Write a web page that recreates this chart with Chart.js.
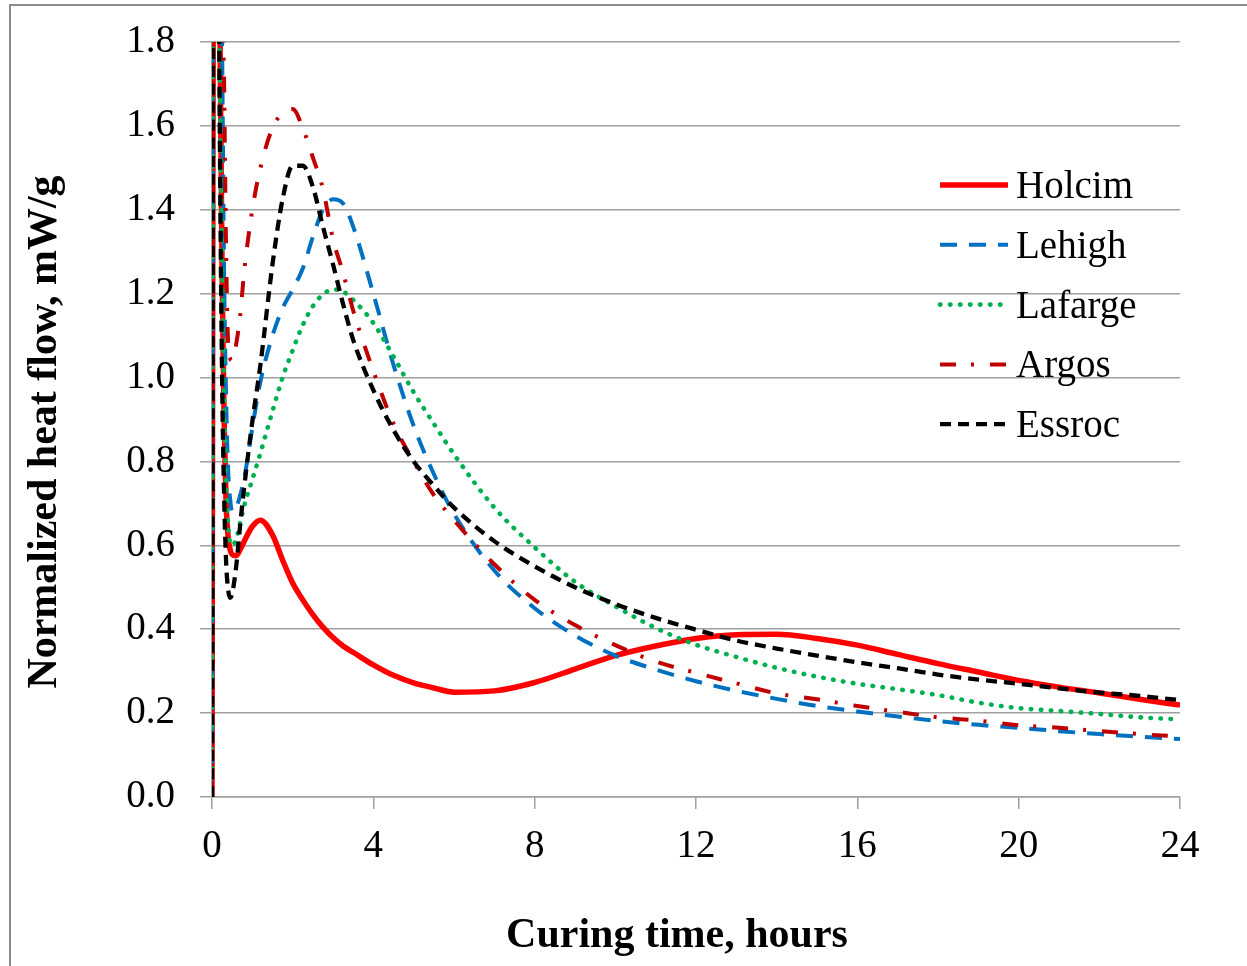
<!DOCTYPE html>
<html>
<head>
<meta charset="utf-8">
<script src="https://cdn.jsdelivr.net/npm/chart.js@4.4.1/dist/chart.umd.min.js"></script>
<style>
  html, body { margin: 0; padding: 0; background: #ffffff; overflow: hidden; }
  #frame { position: absolute; left: 9px; top: 4px; width: 1260px; height: 990px; border: 2px solid #8c8c8c; box-sizing: border-box; }
  #wrap { position: absolute; left: 0; top: 0; width: 1247px; height: 966px; }
</style>
</head>
<body>
<div id="frame"></div>
<div id="wrap"><canvas id="heat" width="1247" height="966"></canvas></div>
<script>
// curing time (hours) shared by all series
var hours = [0, 0.05, 0.1, 0.15, 0.2, 0.25, 0.3, 0.35, 0.4, 0.45, 0.5, 0.6, 0.7, 0.8, 1.0, 1.2, 1.5, 1.75,
  2, 2.25, 2.5, 2.75, 3, 3.25, 3.5, 4, 4.5, 5, 5.5, 6, 7, 8, 9, 10, 11, 12, 13, 14, 15, 16, 17, 18,
  19, 20, 21, 22, 23, 24];

// normalized heat flow, mW/g
var holcim = [0, 3.0, 3.4, 2.6, 1.8, 1.25, 0.9, 0.7, 0.62, 0.59, 0.578, 0.575, 0.59, 0.61, 0.645, 0.66, 0.625, 0.565,
  0.51, 0.47, 0.435, 0.405, 0.38, 0.36, 0.345, 0.315, 0.29, 0.272, 0.26, 0.25, 0.253, 0.273, 0.305, 0.337, 0.36, 0.378, 0.387, 0.388, 0.378, 0.362, 0.34, 0.318,
  0.298, 0.278, 0.262, 0.248, 0.233, 0.219];
var lehigh = [0, 3.0, 3.3, 2.8, 2.3, 1.8, 1.25, 0.95, 0.78, 0.71, 0.68, 0.69, 0.72, 0.76, 0.88, 0.99, 1.10, 1.165,
  1.21, 1.26, 1.335, 1.40, 1.425, 1.415, 1.36, 1.20, 1.03, 0.885, 0.77, 0.675, 0.54, 0.45, 0.385, 0.337, 0.304, 0.276, 0.253, 0.234, 0.217, 0.204, 0.192, 0.181,
  0.172, 0.165, 0.157, 0.15, 0.144, 0.138];
var lafarge = [0, 2.8, 3.0, 2.3, 1.7, 1.3, 0.95, 0.75, 0.65, 0.605, 0.60, 0.615, 0.655, 0.695, 0.757, 0.82, 0.92, 1.0,
  1.065, 1.125, 1.17, 1.198, 1.21, 1.205, 1.185, 1.13, 1.05, 0.965, 0.89, 0.817, 0.69, 0.595, 0.513, 0.455, 0.403, 0.363, 0.334, 0.308, 0.287, 0.27, 0.257, 0.243,
  0.225, 0.212, 0.205, 0.198, 0.19, 0.185];
var argos = [0, 3.2, 3.6, 3.0, 2.5, 2.0, 1.7, 1.3, 1.08, 1.045, 1.04, 1.08, 1.15, 1.255, 1.40, 1.50, 1.595, 1.63,
  1.64, 1.595, 1.525, 1.45, 1.33, 1.25, 1.16, 1.016, 0.89, 0.80, 0.72, 0.66, 0.555, 0.47, 0.41, 0.362, 0.323, 0.296, 0.271, 0.247, 0.233, 0.217, 0.203, 0.19,
  0.182, 0.171, 0.165, 0.157, 0.15, 0.144];
var essroc = [0, 3.0, 3.4, 2.3, 1.5, 1.0, 0.72, 0.56, 0.495, 0.475, 0.485, 0.55, 0.65, 0.74, 0.895, 1.03, 1.27, 1.425,
  1.505, 1.505, 1.455, 1.36, 1.27, 1.175, 1.09, 0.97, 0.875, 0.80, 0.742, 0.69, 0.61, 0.55, 0.50, 0.46, 0.427, 0.399, 0.373, 0.354, 0.337, 0.321, 0.307, 0.292,
  0.28, 0.27, 0.259, 0.249, 0.241, 0.231];

var seriesNames = ['Holcim', 'Lehigh', 'Lafarge', 'Argos', 'Essroc'];
var xTicks = [0, 4, 8, 12, 16, 20, 24];

var serif = '"Liberation Serif", "Times New Roman", serif';

function points(values) {
  return hours.map(function(h, i) { return { x: h, y: values[i] }; });
}

function line(label, values, color, width, dash, cap, order) {
  return {
    label: label,
    data: points(values),
    borderColor: color,
    backgroundColor: color,
    borderWidth: width,
    borderDash: dash,
    borderCapStyle: cap,
    pointRadius: 0,
    fill: false,
    cubicInterpolationMode: 'monotone',
    clip: 0,
    order: order
  };
}

var datasets = [
  line(seriesNames[0], holcim, '#ff0000', 5.5, [], 'butt', 5),
  line(seriesNames[1], lehigh, '#0070c0', 4, [17, 12], 'butt', 4),
  line(seriesNames[2], lafarge, '#00b050', 4.6, [0.5, 9.5], 'round', 3),
  line(seriesNames[3], argos, '#c00000', 4, [16, 15, 3, 16], 'butt', 2),
  line(seriesNames[4], essroc, '#000000', 4.3, [11, 7], 'butt', 1)
];

// legend inside the plot plus axis titles, placed like the original sheet
var extrasPlugin = {
  id: 'extras',
  afterDraw: function(chart) {
    var ctx = chart.ctx;
    ctx.save();
    ctx.font = '39px ' + serif;
    ctx.fillStyle = '#000000';
    ctx.textAlign = 'left';
    ctx.textBaseline = 'alphabetic';
    chart.data.datasets.forEach(function(ds, i) {
      var y = 185 + i * 59.8;
      ctx.beginPath();
      ctx.strokeStyle = ds.borderColor;
      ctx.lineWidth = ds.borderWidth;
      ctx.setLineDash(ds.borderDash);
      ctx.lineCap = ds.borderCapStyle;
      ctx.moveTo(940, y);
      ctx.lineTo(1008, y);
      ctx.stroke();
      ctx.fillText(ds.label, 1016, y + 13);
    });
    ctx.setLineDash([]);

    ctx.font = 'bold 42px ' + serif;
    ctx.textAlign = 'center';
    ctx.fillText('Curing time, hours', 677, 947);

    ctx.translate(56, 432);
    ctx.rotate(-Math.PI / 2);
    ctx.fillText('Normalized heat flow, mW/g', 0, 0);
    ctx.restore();
  }
};

var gridGray = '#a0a0a0';

new Chart(document.getElementById('heat'), {
  type: 'line',
  data: { datasets: datasets },
  plugins: [extrasPlugin],
  options: {
    responsive: false,
    animation: false,
    layout: { padding: { left: 0, top: 42, right: 67, bottom: 0 } },
    plugins: {
      legend: { display: false },
      tooltip: { enabled: false }
    },
    scales: {
      x: {
        type: 'linear',
        min: 0,
        max: 24,
        afterBuildTicks: function(scale) {
          scale.ticks = xTicks.map(function(v) { return { value: v }; });
        },
        afterFit: function(scale) { scale.height = 169; },
        grid: { display: true, drawOnChartArea: false, drawTicks: true, tickLength: 12, color: gridGray, lineWidth: 1.5 },
        border: { display: true, color: gridGray, width: 1.5 },
        ticks: { color: '#000000', padding: 14, font: { family: serif, size: 39 }, maxRotation: 0 }
      },
      y: {
        min: 0,
        max: 1.8,
        afterFit: function(scale) {
          scale.width = 212;
          // label overhang is already covered by the layout padding
          scale.paddingTop = 0;
          scale.paddingBottom = 0;
        },
        grid: { color: gridGray, lineWidth: 1.5, tickLength: 12 },
        border: { display: true, color: gridGray, width: 1.5 },
        ticks: {
          stepSize: 0.2,
          color: '#000000',
          padding: 25,
          font: { family: serif, size: 39 },
          callback: function(v) { return Number(v).toFixed(1); }
        }
      }
    }
  }
});
</script>
</body>
</html>
